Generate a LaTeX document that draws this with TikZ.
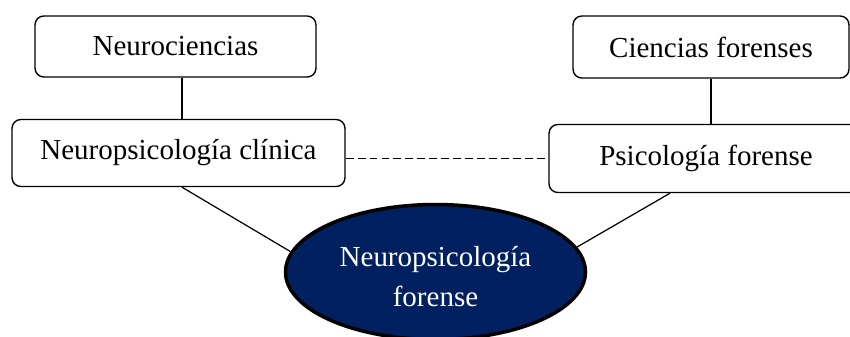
\documentclass[tikz,border=0pt]{standalone}
\usepackage{fontspec}
\setmainfont{Liberation Serif}
\usetikzlibrary{shapes.geometric}
\definecolor{navy}{HTML}{002060}
\tikzset{%
field/.style={draw,rounded corners=5pt,line width=0.8pt,font=\fontsize{16.5}{22.7}\selectfont},
result/.style={ellipse,draw,fill=navy,line width=2pt,inner sep=0pt,text=white,align=center,
               font=\fontsize{16.5}{22.7}\selectfont,minimum width=6cm,minimum height=2.7cm},
link/.style={draw,line width=0.7pt},
relate/.style={draw,line width=0.8pt,dash pattern=on 4.5pt off 2.3pt}
}

\begin{document}
\begin{tikzpicture}[x=0.02cm,y=-0.02cm]
\useasboundingbox (0,0) rectangle (850,336);
\node[field,minimum width=5.62cm,minimum height=1.22cm]  (neuro)   at (175.5,46.5)  {Neurociencias};
\node[field,minimum width=6.66cm,minimum height=1.34cm]  (clinica) at (178.5,153)   {Neuropsicología clínica};
\node[field,minimum width=5.52cm,minimum height=1.24cm]  (cforen)  at (711,47)      {Ciencias forenses};
\node[field,minimum width=6.28cm,minimum height=1.36cm]  (psico)   at (706,158.5)   {Psicología forense};
\node[result]                                            (nf)      at (435.5,272)   {\rule{0pt}{17pt}Neuropsicología\\forense};

\draw[link]   ([xshift=1.3mm]neuro.south) -- ([xshift=1.3mm]neuro.south |- clinica.north);
\draw[link]   (cforen.south) -- (cforen.south |- psico.north);
\draw[relate] (clinica.east |- psico.west) -- (psico.west);
\draw[link]   ([xshift=0.7mm]clinica.south) -- (nf.172);
\draw[link]   ([xshift=-7.2mm]psico.south) -- (nf.10);
\end{tikzpicture}
\end{document}
